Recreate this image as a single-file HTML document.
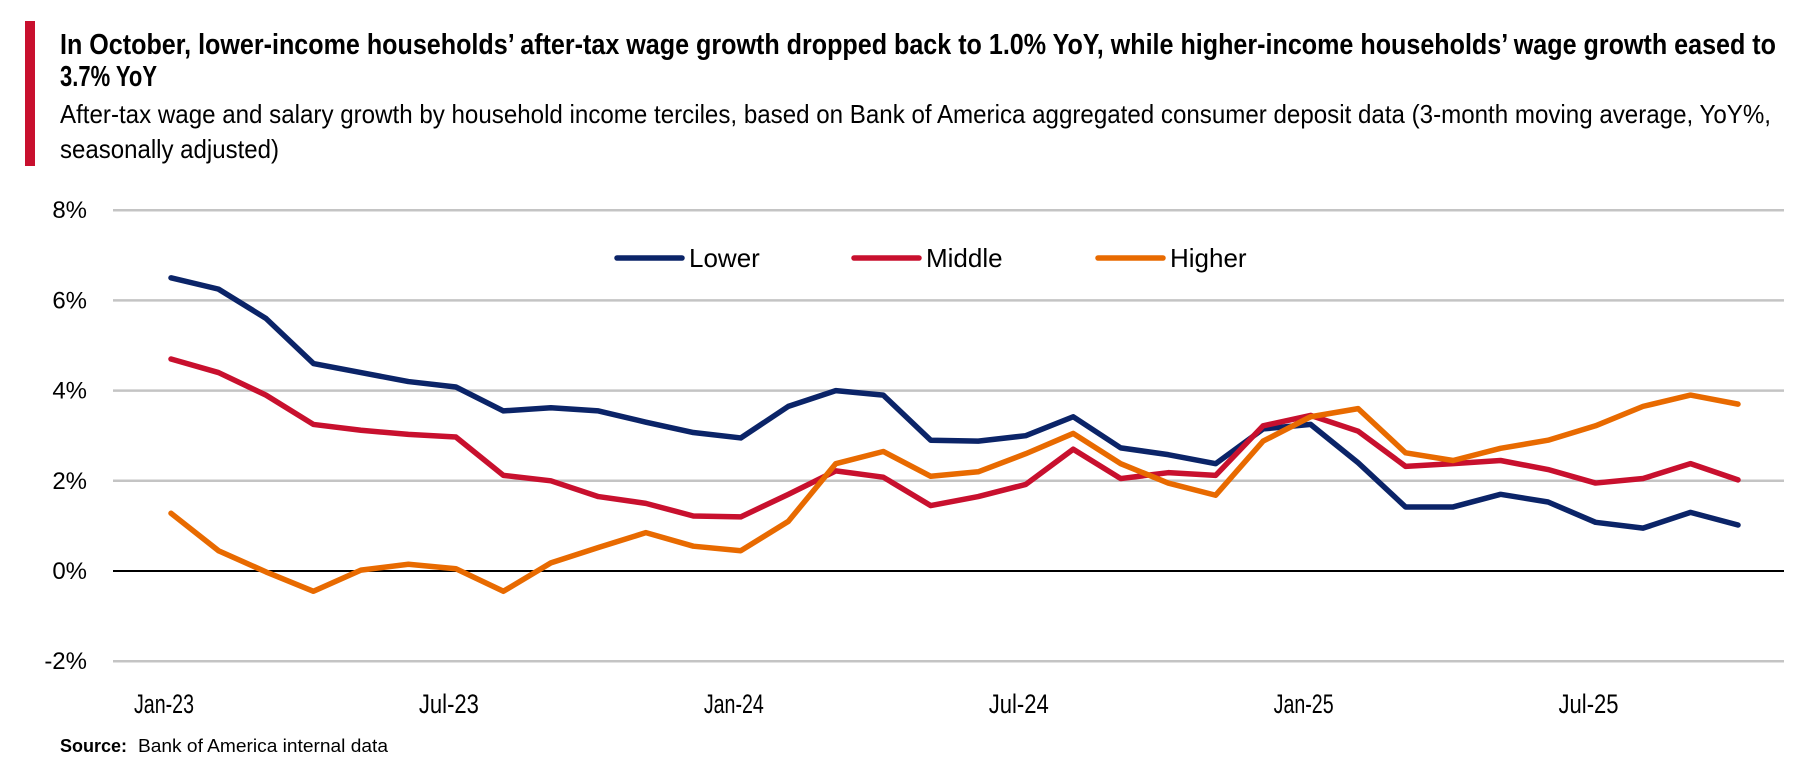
<!DOCTYPE html>
<html><head><meta charset="utf-8"><style>
html,body{margin:0;padding:0;background:#fff;}
svg{display:block;font-family:"Liberation Sans Narrow","Liberation Sans",sans-serif;}
</style></head><body>
<svg id="chart" width="1820" height="766" viewBox="0 0 1820 766">
<rect x="25" y="21" width="10" height="145" fill="#c8102e"/>
<text x="60" y="54" font-size="29" font-weight="bold" fill="#000" textLength="1716" lengthAdjust="spacingAndGlyphs">In October, lower-income households’ after-tax wage growth dropped back to 1.0% YoY, while higher-income households’ wage growth eased to</text>
<text x="60" y="86" font-size="29" font-weight="bold" fill="#000" textLength="97" lengthAdjust="spacingAndGlyphs">3.7% YoY</text>
<text x="60" y="123" font-size="26" fill="#000" textLength="1711" lengthAdjust="spacingAndGlyphs">After-tax wage and salary growth by household income terciles, based on Bank of America aggregated consumer deposit data (3-month moving average, YoY%,</text>
<text x="60" y="158" font-size="26" fill="#000" textLength="219" lengthAdjust="spacingAndGlyphs">seasonally adjusted)</text>
<g id="grid"></g>
<g id="series"></g>
<g id="legend"></g>
<text x="60" y="752" font-size="18" font-weight="bold" fill="#000" textLength="67" lengthAdjust="spacingAndGlyphs">Source:</text>
<text x="138" y="752" font-size="18" fill="#000" textLength="250" lengthAdjust="spacingAndGlyphs">Bank of America internal data</text>
</svg>
<script>
const yTicks=[8,6,4,2,0,-2];
const yTickLabels=["8%","6%","4%","2%","0%","-2%"];
const xTickIdx=[0,6,12,18,24,30];
const xTickLabels=["Jan-23","Jul-23","Jan-24","Jul-24","Jan-25","Jul-25"];
const seriesNames=["Lower","Middle","Higher"];
const lower=[6.5,6.25,5.6,4.6,4.4,4.2,4.08,3.55,3.62,3.55,3.3,3.07,2.95,3.65,4.0,3.9,2.9,2.88,3.0,3.42,2.73,2.58,2.38,3.15,3.25,2.4,1.42,1.42,1.7,1.53,1.08,0.95,1.3,1.02];
const middle=[4.7,4.4,3.9,3.25,3.12,3.03,2.97,2.12,2.0,1.65,1.5,1.22,1.2,1.7,2.22,2.08,1.45,1.65,1.92,2.7,2.05,2.18,2.12,3.22,3.45,3.1,2.32,2.38,2.45,2.25,1.95,2.05,2.38,2.02];
const higher=[1.28,0.45,-0.02,-0.45,0.02,0.15,0.05,-0.45,0.18,0.52,0.85,0.55,0.45,1.1,2.38,2.65,2.1,2.2,2.6,3.05,2.38,1.95,1.68,2.88,3.42,3.6,2.62,2.45,2.72,2.9,3.22,3.65,3.9,3.7];
const colors=["#0b2468","#c8102e","#e86a00"];
const NS="http://www.w3.org/2000/svg";
const X0=171,X1=1738,N=lower.length;
function xs(i){return X0+(X1-X0)*i/(N-1);}
function ys(v){return 571-v*45.1;}
function mk(t,attrs,parent){const e=document.createElementNS(NS,t);for(const k in attrs)e.setAttribute(k,attrs[k]);parent.appendChild(e);return e;}
const grid=document.getElementById('grid');
yTicks.forEach((v,i)=>{
  const l=mk('line',{x1:113,x2:1784,y1:ys(v),y2:ys(v),stroke:v===0?'#000':'#c4c4c4','stroke-width':v===0?2:2.5},grid);
  
  
  const t=mk('text',{x:87,y:ys(v)+8,'font-size':24,'text-anchor':'end',fill:'#000'},grid);
  t.textContent=yTickLabels[i];
  
  
});
xTickIdx.forEach((idx,i)=>{
  const t=mk('text',{x:xs(idx)-7,y:713,'font-size':27,'text-anchor':'middle',fill:'#000',textLength:60,lengthAdjust:'spacingAndGlyphs'},grid);
  t.textContent=xTickLabels[i];
  
  
});
const ser=document.getElementById('series');
[lower,middle,higher].forEach((d,s)=>{
  const p=mk('polyline',{points:d.map((v,i)=>xs(i)+','+ys(v)).join(' '),fill:'none',stroke:colors[s],'stroke-width':5.5,'stroke-linejoin':'round','stroke-linecap':'round'},ser);
  
  
});
const leg=document.getElementById('legend');
const legX=[617,854,1098];
seriesNames.forEach((n,s)=>{
  const l=mk('line',{x1:legX[s],x2:legX[s]+65,y1:258,y2:258,stroke:colors[s],'stroke-width':5.5,'stroke-linecap':'round'},leg);
  
  
  const t=mk('text',{x:legX[s]+72,y:267,'font-size':26,fill:'#000'},leg);
  t.textContent=n;
  
  
});
</script>
</body></html>
